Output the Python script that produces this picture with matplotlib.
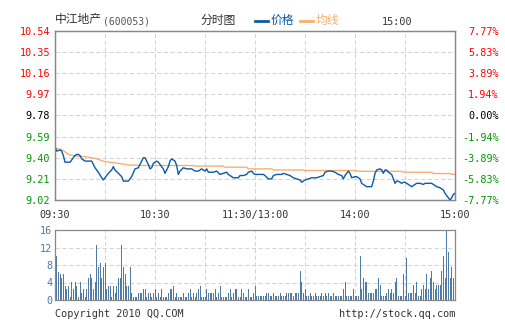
import matplotlib
matplotlib.use("Agg")
import matplotlib.pyplot as plt
from matplotlib.lines import Line2D

plt.rcParams['font.family'] = ['DejaVu Sans Mono']
CJK = ['Noto Sans CJK SC', 'DejaVu Sans']

# ---- data -------------------------------------------------------------
stock_name = "中江地产"
stock_code = "(600053)"
prev_close = 9.78
price_ticks = [10.54, 10.35, 10.16, 9.97, 9.78, 9.59, 9.40, 9.21, 9.02]
time_ticks = [0, 30, 60, 90, 120, 150, 180, 210, 240]
time_labels = ['09:30', '', '10:30', '', '11:30/13:00', '', '14:00', '', '15:00']
vol_ticks = [0, 4, 8, 12, 16]

# minute since 09:30 (lunch break removed) and last price
price_min = [0, 1, 3, 4, 5, 6, 9, 10, 12, 13, 14, 15, 16, 18, 22, 23, 24, 26, 28, 29,
             30, 32, 34, 35, 36, 38, 40, 41, 44, 46, 48, 50, 51, 53, 54, 56, 57, 58, 59, 61,
             62, 64, 65, 66, 68, 69, 70, 72, 73, 74, 75, 77, 79, 82, 84, 86, 88, 90, 91, 92,
             95, 97, 99, 101, 103, 104, 107, 110, 111, 113, 115, 116, 118, 119, 120, 122, 125, 126, 128, 130,
             131, 133, 136, 137, 139, 141, 143, 145, 147, 148, 150, 152, 154, 157, 159, 161, 162, 164, 166, 168,
             170, 172, 173, 174, 176, 177, 178, 180, 181, 183, 184, 185, 187, 188, 190, 191, 192, 193, 195, 196,
             197, 198, 199, 200, 202, 203, 204, 205, 206, 208, 209, 210, 211, 213, 214, 216, 217, 219, 221, 222,
             224, 226, 227, 229, 231, 233, 234, 236, 237, 238, 239, 240]
price = [9.50, 9.46, 9.47, 9.46, 9.42, 9.36, 9.36, 9.38, 9.42, 9.43, 9.43, 9.42, 9.39, 9.37, 9.37, 9.34, 9.31, 9.27, 9.22, 9.20,
         9.22, 9.26, 9.29, 9.32, 9.29, 9.26, 9.23, 9.19, 9.19, 9.23, 9.30, 9.31, 9.34, 9.40, 9.40, 9.34, 9.30, 9.31, 9.35, 9.37,
         9.36, 9.32, 9.30, 9.26, 9.32, 9.37, 9.39, 9.37, 9.33, 9.25, 9.28, 9.31, 9.30, 9.30, 9.28, 9.28, 9.30, 9.28, 9.30, 9.27,
         9.27, 9.28, 9.25, 9.26, 9.27, 9.25, 9.22, 9.22, 9.24, 9.24, 9.25, 9.27, 9.28, 9.26, 9.25, 9.25, 9.25, 9.24, 9.21, 9.21,
         9.24, 9.25, 9.25, 9.26, 9.25, 9.24, 9.22, 9.21, 9.20, 9.18, 9.20, 9.21, 9.22, 9.22, 9.23, 9.24, 9.27, 9.28, 9.28, 9.27,
         9.25, 9.24, 9.21, 9.24, 9.28, 9.26, 9.22, 9.23, 9.23, 9.21, 9.17, 9.16, 9.14, 9.14, 9.14, 9.19, 9.26, 9.29, 9.30, 9.29,
         9.26, 9.29, 9.29, 9.27, 9.25, 9.21, 9.17, 9.19, 9.19, 9.17, 9.18, 9.18, 9.17, 9.15, 9.14, 9.16, 9.17, 9.17, 9.16, 9.17,
         9.17, 9.17, 9.16, 9.14, 9.13, 9.11, 9.08, 9.04, 9.02, 9.04, 9.07, 9.08]

# running average price
avg_min = [0, 4, 8, 12, 18, 24, 30, 38, 44, 54, 83, 84, 101, 102, 115, 116, 130, 131, 149, 150,
           181, 182, 208, 209, 226, 227, 237, 238, 240]
avg_price = [9.485, 9.475, 9.43, 9.415, 9.41, 9.395, 9.365, 9.35, 9.335, 9.33, 9.33, 9.325, 9.325, 9.315, 9.315,
             9.30, 9.30, 9.29, 9.29, 9.285, 9.285, 9.278, 9.278, 9.27, 9.27, 9.258, 9.258, 9.25, 9.25]

# volume per minute, minutes 1..239
vol = [10.0, 6.5, 5.9, 5.0, 5.9, 3.3, 2.5, 3.3, 0.8, 4.1, 2.5, 4.1, 3.3, 0.8, 4.1, 1.6, 2.5, 0.8, 2.5, 5.0,
       5.9, 5.0, 2.5, 4.1, 12.5, 7.5, 8.5, 5.0, 7.5, 8.5, 2.5, 3.3, 3.3, 0.8, 3.3, 1.6, 3.3, 5.0, 5.0, 12.5,
       7.5, 5.9, 3.3, 3.3, 7.5, 1.6, 0.8, 0.8, 0.8, 1.6, 1.6, 1.6, 2.5, 2.5, 0.8, 1.6, 1.6, 0.8, 1.6, 2.5,
       0.8, 1.6, 0.8, 2.5, 0.8, 0.8, 0.8, 1.6, 2.5, 2.5, 3.3, 0.8, 1.6, 0.8, 0.8, 0.8, 1.6, 0.8, 0.8, 1.6,
       2.5, 0.8, 1.6, 0.8, 1.6, 2.5, 3.3, 0.8, 0.8, 0.8, 2.5, 1.6, 1.6, 1.6, 1.6, 2.5, 0.8, 1.6, 3.3, 0.8,
       0.8, 0.8, 0.8, 1.6, 2.5, 0.8, 1.6, 2.5, 2.5, 0.8, 0.8, 2.5, 1.6, 0.8, 0.8, 2.5, 0.8, 0.8, 1.6, 3.3,
       0.9, 0.9, 0.9, 0.9, 0.9, 0.9, 1.5, 1.5, 0.9, 0.9, 1.5, 0.9, 0.9, 0.9, 1.5, 0.9, 0.9, 0.9, 1.5, 1.5,
       1.5, 1.5, 0.9, 1.5, 1.5, 1.5, 6.6, 4.2, 1.5, 2.5, 0.9, 0.9, 1.5, 0.9, 0.9, 1.5, 0.9, 0.9, 0.9, 1.5,
       0.9, 1.5, 0.9, 1.5, 0.9, 0.9, 1.5, 0.9, 0.9, 0.9, 0.9, 0.9, 2.5, 4.2, 0.9, 0.9, 0.9, 0.9, 2.5, 0.9,
       0.9, 0.9, 10.1, 2.5, 5.1, 4.2, 4.2, 1.6, 1.6, 1.6, 1.6, 2.5, 2.5, 5.1, 3.4, 0.9, 0.9, 0.9, 1.6, 2.5,
       1.6, 2.5, 1.6, 4.2, 5.1, 0.9, 0.9, 0.9, 5.9, 0.9, 9.5, 1.6, 1.6, 1.6, 3.4, 1.6, 4.2, 0.9, 0.9, 2.5,
       3.4, 2.5, 5.9, 2.5, 5.1, 6.6, 4.2, 2.5, 3.4, 3.4, 3.4, 6.6, 10.1, 5.1, 16.0, 11.0, 5.1, 7.6, 5.1]

# ---- colours ----------------------------------------------------------
BLUE = '#0a5aa8'
ORANGE = '#f5b070'
VOLC = '#4f7aa3'
RED = '#ff0000'
GREEN = '#009900'
FRAME = '#888888'
GRID = '#d4d4d4'
TXT = '#333333'

W, H = 505, 330
fig = plt.figure(figsize=(W / 100, H / 100), dpi=100)
fig.patch.set_facecolor('white')


def box(x0, y0, x1, y1):
    return [x0 / W, 1 - y1 / H, (x1 - x0) / W, (y1 - y0) / H]


def fx(x):
    return x / W


def fy(y):
    return 1 - y / H


def style_frame(a):
    for s in a.spines.values():
        s.set_color(FRAME)
        s.set_linewidth(0.9)
    a.tick_params(length=0)


def sign_colour(p):
    if p > prev_close:
        return RED
    if p < prev_close:
        return GREEN
    return 'black'


grid_kw = dict(color=GRID, linewidth=0.75, linestyle=(0, (4, 2.5)), zorder=0)

# ---- price panel ------------------------------------------------------
ax = fig.add_axes(box(55, 31, 455, 200))
ax.set_xlim(0, 240)
ax.set_ylim(price_ticks[-1], price_ticks[0])
style_frame(ax)
for p in price_ticks[1:-1]:
    ax.axhline(p, **grid_kw)
for t in time_ticks[1:-1]:
    ax.axvline(t, **grid_kw)

ax.plot(avg_min, avg_price, color=ORANGE, linewidth=1.0, zorder=2)
ax.plot(price_min, price, color=BLUE, linewidth=1.0, zorder=3)

ax.set_yticks(price_ticks)
ax.set_yticklabels([f"{p:.2f}" for p in price_ticks], fontsize=7.3)
ax.tick_params(axis='y', pad=3.5)
for lab, p in zip(ax.get_yticklabels(), price_ticks):
    lab.set_color(sign_colour(p))

ax.set_xticks(time_ticks)
ax.set_xticklabels(time_labels, fontsize=7.3, color=TXT)
ax.tick_params(axis='x', pad=7)

# percent change scale, right-aligned against the figure edge
ax2 = ax.twinx()
ax2.set_ylim(ax.get_ylim())
ax2.set_yticks(price_ticks)
ax2.set_yticklabels([f"{(p / prev_close - 1) * 100:.2f}%" for p in price_ticks], fontsize=7.3)
style_frame(ax2)
ax2.tick_params(axis='y', pad=31.5)
for lab, p in zip(ax2.get_yticklabels(), price_ticks):
    lab.set_color(sign_colour(p))
    lab.set_horizontalalignment('right')

# ---- volume panel -----------------------------------------------------
axv = fig.add_axes(box(55, 230, 455, 300))
axv.set_xlim(0, 240)
axv.set_ylim(vol_ticks[0], vol_ticks[-1])
style_frame(axv)
for v in vol_ticks[1:-1]:
    axv.axhline(v, **grid_kw)
for t in time_ticks[1:-1]:
    axv.axvline(t, **grid_kw)
axv.bar(range(1, len(vol) + 1), vol, width=0.6, color=VOLC, linewidth=0, zorder=2)
axv.set_xticks([])
axv.set_yticks(vol_ticks)
axv.set_yticklabels([str(v) for v in vol_ticks], fontsize=7.3, color=VOLC)
axv.tick_params(axis='y', pad=2)

# ---- header -----------------------------------------------------------
fig.text(fx(55), fy(20), stock_name, family=CJK, fontsize=8.5, color=TXT, va='center', ha='left')
fig.text(fx(103), fy(21), stock_code, fontsize=7.0, color='#555555', va='center', ha='left')
fig.text(fx(200), fy(20), "分时图", family=CJK, fontsize=8.5, color=TXT, va='center', ha='left')
fig.add_artist(Line2D([fx(255), fx(268)], [fy(21), fy(21)], color=BLUE, linewidth=2))
fig.text(fx(270.5), fy(20), "价格", family=CJK, fontsize=8.5, color=BLUE, va='center', ha='left')
fig.add_artist(Line2D([fx(300), fx(313)], [fy(21), fy(21)], color=ORANGE, linewidth=2))
fig.text(fx(315.5), fy(20), "均线", family=CJK, fontsize=8.5, color=ORANGE, va='center', ha='left')
fig.text(fx(381.5), fy(22), "15:00", fontsize=7.3, color=TXT, va='center', ha='left')

# ---- footer -----------------------------------------------------------
fig.text(fx(55), fy(314), "Copyright 2010 QQ.COM", fontsize=7.3, color=TXT, va='center', ha='left')
fig.text(fx(455), fy(314), "http://stock.qq.com", fontsize=7.3, color=TXT, va='center', ha='right')

fig.savefig('out.png', dpi=100, facecolor='white')
